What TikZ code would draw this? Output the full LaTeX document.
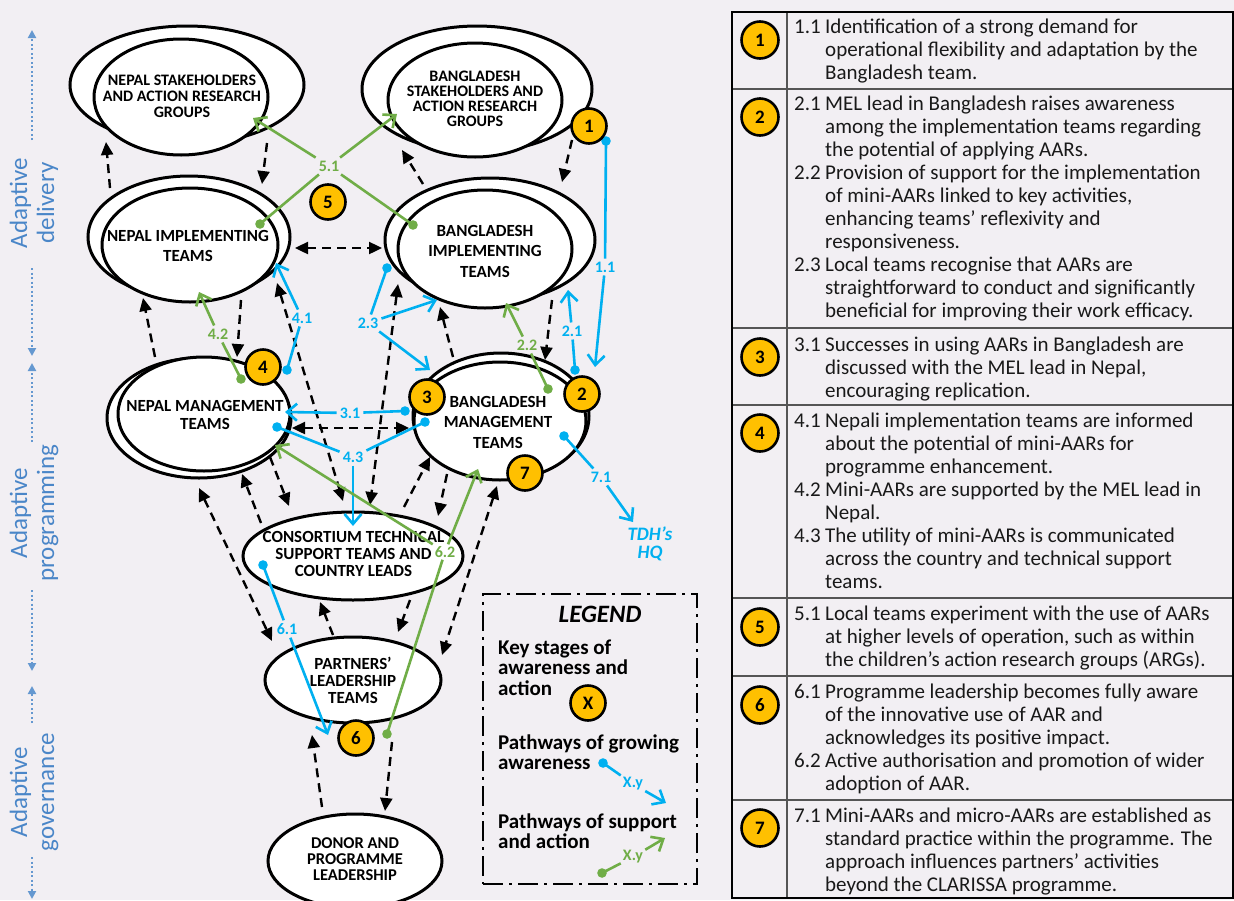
\documentclass[tikz,border=0pt]{standalone}
\usepackage{fontspec}
\setmainfont{Carlito}
\usetikzlibrary{arrows.meta,shapes.geometric}
\definecolor{bg}{RGB}{242,239,243}
\definecolor{gold}{RGB}{255,192,0}
\definecolor{aqua}{RGB}{0,176,240}
\definecolor{leaf}{RGB}{112,173,71}
\definecolor{side}{RGB}{74,134,200}
\definecolor{rule}{RGB}{85,85,85}
\definecolor{ink}{RGB}{25,25,25}

\begin{document}
\begin{tikzpicture}[x=1pt,y=-1pt,
  blob/.style={draw=black, fill=white, line width=3pt},
  lbl/.style={font=\bfseries\fontsize{17}{19.5}\selectfont, align=center, inner sep=0pt},
  num/.style={circle, draw=black, fill=gold, line width=2.6pt, minimum size=35pt, inner sep=0pt, font=\bfseries\fontsize{19}{19}\selectfont},
  tnum/.style={num, minimum size=37pt},
  dar/.style={draw=black, line width=2.4pt, dash pattern=on 9pt off 6pt, -{Triangle[length=13pt,width=12pt]}},
  ddar/.style={draw=black, line width=2.4pt, dash pattern=on 9pt off 6pt, {Triangle[length=13pt,width=12pt]}-{Triangle[length=13pt,width=12pt]}},
  bl/.style={draw=aqua, line width=2.6pt},
  bla/.style={bl, -{Straight Barb[length=10pt,width=17pt]}},
  gr/.style={draw=leaf, line width=2.6pt},
  gra/.style={gr, -{Straight Barb[length=10pt,width=17pt]}},
  bln/.style={font=\bfseries\fontsize{16}{16}\selectfont, text=aqua, inner sep=3pt},
  grn/.style={font=\bfseries\fontsize{16}{16}\selectfont, text=leaf, inner sep=3pt},
  sidearr/.style={draw=side!85, line width=2.2pt, dash pattern=on 2pt off 2.5pt, -{Triangle[length=8pt,width=8pt]}},
  sidetxt/.style={text=side, font=\fontsize{25}{27}\selectfont, align=center, rotate=90, inner sep=0pt},
  tabtxt/.style={text=ink, font=\fontsize{21}{23}\selectfont, inner sep=0pt, anchor=base west},
  legtxt/.style={text=black, font=\bfseries\fontsize{21}{20.5}\selectfont, inner sep=0pt, anchor=base west}
]
\useasboundingbox (0,0) rectangle (1234,900);
\fill[bg] (0,0) rectangle (1234,900);

% ---------------- table of stages ----------------
\foreach \yy in {89,328,405,598,676,800}
  \draw[rule, line width=1.5pt] (732,\yy) -- (1234,\yy);
\draw[rule, line width=1.5pt] (787,12) -- (787,898);
\draw[black, line width=2.4pt] (732,12) rectangle (1233,898);

\node[tnum] (t1) at (760,40) {1};
\node[tnum] (t2) at (760,117) {2};
\node[tnum] (t3) at (760,357) {3};
\node[tnum] (t4) at (760,433) {4};
\node[tnum] (t5) at (760,627) {5};
\node[tnum] (t6) at (760,705) {6};
\node[tnum] (t7) at (760,828) {7};

\node[tabtxt] (r1) at (794,33) {\begin{tabular}[t]{@{}p{31pt}@{}l@{}}
1.1 & Identification of a strong demand for\\
 & operational flexibility and adaptation by the\\
 & Bangladesh team.\end{tabular}};
\node[tabtxt] (r2) at (794,110) {\begin{tabular}[t]{@{}p{31pt}@{}l@{}}
2.1 & MEL lead in Bangladesh raises awareness\\
 & among the implementation teams regarding\\
 & the potential of applying AARs.\\
2.2 & Provision of support for the implementation\\
 & of mini-AARs linked to key activities,\\
 & enhancing teams’ reflexivity and\\
 & responsiveness.\\
2.3 & Local teams recognise that AARs are\\
 & straightforward to conduct and significantly\\
 & beneficial for improving their work efficacy.\end{tabular}};
\node[tabtxt] (r3) at (794,351) {\begin{tabular}[t]{@{}p{31pt}@{}l@{}}
3.1 & Successes in using AARs in Bangladesh are\\
 & discussed with the MEL lead in Nepal,\\
 & encouraging replication.\end{tabular}};
\node[tabtxt] (r4) at (794,427) {\begin{tabular}[t]{@{}p{31pt}@{}l@{}}
4.1 & Nepali implementation teams are informed\\
 & about the potential of mini-AARs for\\
 & programme enhancement.\\
4.2 & Mini-AARs are supported by the MEL lead in\\
 & Nepal.\\
4.3 & The utility of mini-AARs is communicated\\
 & across the country and technical support\\
 & teams.\end{tabular}};
\node[tabtxt] (r5) at (794,620) {\begin{tabular}[t]{@{}p{31pt}@{}l@{}}
5.1 & Local teams experiment with the use of AARs\\
 & at higher levels of operation, such as within\\
 & the children’s action research groups (ARGs).\end{tabular}};
\node[tabtxt] (r6) at (794,698) {\begin{tabular}[t]{@{}p{31pt}@{}l@{}}
6.1 & Programme leadership becomes fully aware\\
 & of the innovative use of AAR and\\
 & acknowledges its positive impact.\\
6.2 & Active authorisation and promotion of wider\\
 & adoption of AAR.\end{tabular}};
\node[tabtxt] (r7) at (794,822) {\begin{tabular}[t]{@{}p{31pt}@{}l@{}}
7.1 & Mini-AARs and micro-AARs are established as\\
 & standard practice within the programme. The\\
 & approach influences partners’ activities\\
 & beyond the CLARISSA programme.\end{tabular}};

% ---------------- side scale ----------------
\node[sidetxt] (lev1) at (34,203) {Adaptive\\delivery};
\node[sidetxt] (lev2) at (34,513) {Adaptive\\programming};
\node[sidetxt] (lev3) at (34,792) {Adaptive\\governance};
\coordinate (s1a) at (32,140); \coordinate (s1b) at (32,30);
\coordinate (s2a) at (32,268); \coordinate (s2b) at (32,356);
\coordinate (s3a) at (32,442); \coordinate (s3b) at (32,363);
\coordinate (s4a) at (32,590); \coordinate (s4b) at (32,671);
\coordinate (s5a) at (32,723); \coordinate (s5b) at (32,686);
\coordinate (s6a) at (32,857); \coordinate (s6b) at (32,899);
\foreach \k in {1,...,6} \draw[sidearr] (s\k a) -- (s\k b);

% ---------------- team ellipses ----------------
\draw[blob] (187,85) ellipse [x radius=117, y radius=59];
\draw[blob] (181,97) ellipse [x radius=87, y radius=58];
\draw[blob] (477,89) ellipse [x radius=115, y radius=63];
\draw[blob] (475,100) ellipse [x radius=87, y radius=57];
\draw[blob] (189,237) ellipse [x radius=101, y radius=61];
\draw[blob] (190,245) ellipse [x radius=88, y radius=57];
\draw[blob] (490,240) ellipse [x radius=105, y radius=62];
\draw[blob] (485,249) ellipse [x radius=87, y radius=59];
\draw[blob] (199,418) ellipse [x radius=92, y radius=60];
\draw[blob] (204,414) ellipse [x radius=86, y radius=57];
\draw[blob] (501,416) ellipse [x radius=88, y radius=63];
\draw[blob] (500,421) ellipse [x radius=86, y radius=59];
\draw[blob] (353,556) ellipse [x radius=110, y radius=44];
\draw[blob] (353,680) ellipse [x radius=88, y radius=43];
\draw[blob] (355,861) ellipse [x radius=87, y radius=47];

\node[lbl, font=\bfseries\fontsize{16}{16}\selectfont] (nsa) at (182,96) {NEPAL STAKEHOLDERS\\AND ACTION RESEARCH\\GROUPS};
\node[lbl, font=\bfseries\fontsize{16}{15}\selectfont] (bsa) at (475,98.5) {BANGLADESH\\STAKEHOLDERS AND\\ACTION RESEARCH\\GROUPS};
\node[lbl] (nit) at (188,246) {NEPAL IMPLEMENTING\\TEAMS};
\node[lbl, font=\bfseries\fontsize{17}{20.5}\selectfont] (bit) at (485,251) {BANGLADESH\\IMPLEMENTING\\TEAMS};
\node[lbl, font=\bfseries\fontsize{17}{18.5}\selectfont] (nmt) at (205,415) {NEPAL MANAGEMENT\\TEAMS};
\node[lbl, font=\bfseries\fontsize{17}{20.5}\selectfont] (bmt) at (498,422) {BANGLADESH\\MANAGEMENT\\TEAMS};
\node[lbl, font=\bfseries\fontsize{17}{17}\selectfont] (cts) at (353.5,554) {CONSORTIUM TECHNICAL\\SUPPORT TEAMS AND\\COUNTRY LEADS};
\node[lbl, font=\bfseries\fontsize{17}{17}\selectfont] (plt) at (353,680) {PARTNERS’\\LEADERSHIP\\TEAMS};
\node[lbl, font=\bfseries\fontsize{16.5}{16}\selectfont] (dpl) at (355,859) {DONOR AND\\PROGRAMME\\LEADERSHIP};

% ---------------- dashed links between the teams ----------------
\coordinate (k1a) at (110,188);  \coordinate (k1b) at (106,142);
\coordinate (k2a) at (267,143);  \coordinate (k2b) at (262,184);
\coordinate (k3a) at (295,248);  \coordinate (k3b) at (382,248);
\coordinate (k4a) at (423,184);  \coordinate (k4b) at (402,150);
\coordinate (k5a) at (572,140);  \coordinate (k5b) at (562,182);
\coordinate (k6a) at (155,357);  \coordinate (k6b) at (143,298);
\coordinate (k7a) at (241,300);  \coordinate (k7b) at (237,357);
\coordinate (k8a) at (277,283);  \coordinate (k8b) at (343,501);
\coordinate (k9a) at (398,284);  \coordinate (k9b) at (370,505);
\coordinate (k10a) at (292,428); \coordinate (k10b) at (409,428);
\coordinate (k11a) at (453,357); \coordinate (k11b) at (440,307);
\coordinate (k12a) at (552,300); \coordinate (k12b) at (545,360);
\coordinate (k13a) at (270,457); \coordinate (k13b) at (289,506);
\coordinate (k14a) at (261,523); \coordinate (k14b) at (242,474);
\coordinate (k15a) at (199,488); \coordinate (k15b) at (272,641);
\coordinate (k16a) at (404,507); \coordinate (k16b) at (430,457);
\coordinate (k17a) at (447,474); \coordinate (k17b) at (438,516);
\coordinate (k18a) at (333,635); \coordinate (k18b) at (320,602);
\coordinate (k19a) at (410,600); \coordinate (k19b) at (398,632);
\coordinate (k20a) at (497,486); \coordinate (k20b) at (442,655);
\coordinate (k21a) at (322,807); \coordinate (k21b) at (312,735);
\coordinate (k22a) at (392,742); \coordinate (k22b) at (385,811);
\foreach \k in {1,2,4,5,6,7,11,12,13,14,16,17,18,19,21,22}
  \draw[dar] (k\k a) -- (k\k b);
\foreach \k in {3,8,9,10,15,20}
  \draw[ddar] (k\k a) -- (k\k b);

% ---------------- pathways of growing awareness ----------------
% 1.1
\coordinate (p11) at (606,141); \node[bln] (l11) at (605,267) {1.1}; \coordinate (q11) at (595,367);
\draw[bl] (p11) -- (l11); \draw[bla] (l11) -- (q11);
% 2.1
\coordinate (p21) at (575,370); \node[bln] (l21) at (572,331) {2.1}; \coordinate (q21) at (568,290);
\draw[bl] (p21) -- (l21); \draw[bla] (l21) -- (q21);
% 2.3
\coordinate (p23) at (387,268); \node[bln] (l23) at (368,323) {2.3};
\coordinate (q23a) at (437,300); \coordinate (q23b) at (430,370);
\draw[bl] (p23) -- (l23); \draw[bla] (l23) -- (q23a); \draw[bla] (l23) -- (q23b);
% 3.1
\coordinate (p31) at (405,411); \node[bln] (l31) at (350,413) {3.1}; \coordinate (q31) at (285,412);
\draw[bl] (p31) -- (l31); \draw[bla] (l31) -- (q31);
% 4.1
\coordinate (p41) at (287,370); \node[bln] (l41) at (302,318) {4.1}; \coordinate (q41) at (276,263);
\draw[bl] (p41) -- (l41); \draw[bla] (l41) -- (q41);
% 4.3
\coordinate (p43a) at (277,427); \coordinate (p43b) at (425,422);
\node[bln] (l43) at (353,457) {4.3}; \coordinate (q43) at (353,526);
\draw[bl] (p43a) -- (l43); \draw[bl] (p43b) -- (l43); \draw[bla] (l43) -- (q43);
% 6.1
\coordinate (p61) at (263,565); \node[bln] (l61) at (287,629) {6.1}; \coordinate (q61) at (328,735);
\draw[bl] (p61) -- (l61); \draw[bla] (l61) -- (q61);
% 7.1
\coordinate (p71) at (564,436); \node[bln] (l71) at (601,477) {7.1}; \coordinate (q71) at (633,522);
\draw[bl] (p71) -- (l71); \draw[bla] (l71) -- (q71);
\node[text=aqua, font=\bfseries\itshape\fontsize{19}{18}\selectfont, align=center, inner sep=0pt] (hq) at (650,544) {TDH’s\\HQ};
\foreach \p in {p11,p21,p23,p31,p41,p43a,p43b,p61,p71}
  \fill[aqua] (\p) circle (4.8);

% ---------------- pathways of support and action ----------------
% 5.1
\coordinate (u51a) at (260,224); \coordinate (u51b) at (413,225);
\node[grn] (m51) at (329,166) {5.1};
\coordinate (v51a) at (253,118); \coordinate (v51b) at (397,114);
\draw[gr] (u51a) -- (m51); \draw[gr] (u51b) -- (m51);
\draw[gra] (m51) -- (v51a); \draw[gra] (m51) -- (v51b);
% 4.2
\coordinate (u42) at (241,379); \node[grn] (m42) at (218,334) {4.2}; \coordinate (v42) at (199,292);
\draw[gr] (u42) -- (m42); \draw[gra] (m42) -- (v42);
% 2.2
\coordinate (u22) at (548,389); \node[grn] (m22) at (527,345) {2.2}; \coordinate (v22) at (506,303);
\draw[gr] (u22) -- (m22); \draw[gra] (m22) -- (v22);
% 6.2
\coordinate (u62) at (387,734); \node[grn, inner sep=2pt] (m62) at (445,552) {6.2};
\coordinate (v62a) at (478,469); \coordinate (v62b) at (275,445);
\draw[gr] (u62) -- (m62); \draw[gra] (m62) -- (v62a); \draw[gra] (m62) -- (v62b);
\foreach \p in {u51a,u51b,u42,u22,u62}
  \fill[leaf] (\p) circle (4.8);

% ---------------- key stage markers ----------------
\node[num] (n1) at (589,126) {1};
\node[num] (n2) at (582,394) {2};
\node[num] (n3) at (427,397) {3};
\node[num] (n4) at (263,367) {4};
\node[num] (n5) at (328,202) {5};
\node[num] (n6) at (356,738) {6};
\node[num] (n7) at (525,473) {7};

% ---------------- legend ----------------
\node[draw=black, line width=2.8pt, dash pattern=on 20pt off 6pt on 3pt off 6pt,
      minimum width=214pt, minimum height=290pt, inner sep=0pt] (legend) at (590,739) {};
\node[font=\bfseries\itshape\fontsize{25}{25}\selectfont, inner sep=0pt] (legt) at (600,614) {LEGEND};
\node[legtxt] (leg1) at (498,654) {\begin{tabular}[t]{@{}l@{}}Key stages of\\awareness and\\action\end{tabular}};
\node[num] (nx) at (588,703) {X};
\node[legtxt] (leg2) at (498,749) {\begin{tabular}[t]{@{}l@{}}Pathways of growing\\awareness\end{tabular}};
\node[legtxt] (leg3) at (498,828) {\begin{tabular}[t]{@{}l@{}}Pathways of support\\and action\end{tabular}};
\coordinate (xb1) at (603,763); \node[bln, inner sep=2pt] (xbl) at (633,784) {X.y}; \coordinate (xb2) at (666,803);
\draw[bl] (xb1) -- (xbl); \draw[bla] (xbl) -- (xb2);
\fill[aqua] (xb1) circle (4.8);
\coordinate (xg1) at (602,873); \node[grn, inner sep=2pt] (xgl) at (633,857) {X.y}; \coordinate (xg2) at (665,838);
\draw[gr] (xg1) -- (xgl); \draw[gra] (xgl) -- (xg2);
\fill[leaf] (xg1) circle (4.8);
\end{tikzpicture}
\end{document}
